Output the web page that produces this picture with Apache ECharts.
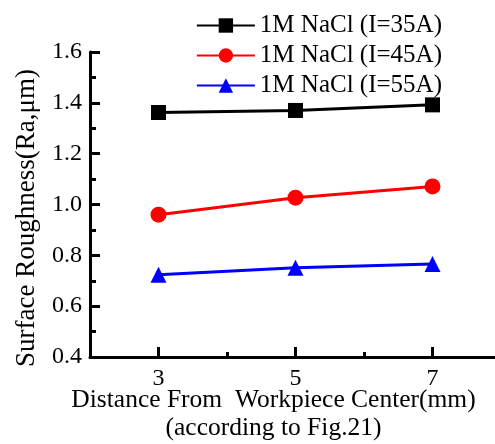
<!DOCTYPE html>
<html><head><meta charset="utf-8">
<script src="https://cdn.jsdelivr.net/npm/echarts@6/dist/echarts.min.js"></script>
<style>html,body{margin:0;padding:0;background:#fff}#c{width:495px;height:444px}</style>
</head><body><div id="c"></div>
<script>
const distances = [3, 5, 7];
const seriesNames = ['1M NaCl (I=35A)', '1M NaCl (I=45A)', '1M NaCl (I=55A)'];
const ra35 = [1.362, 1.370, 1.392];
const ra45 = [0.960, 1.027, 1.071];
const ra55 = [0.724, 0.751, 0.766];
const yTicks = [0.4, 0.6, 0.8, 1.0, 1.2, 1.4, 1.6];
const xTicks = [3, 5, 7];
const xMinorTicks = [4, 6];

const F = 'Liberation Serif, Times New Roman, serif';
const colors = ['#000000', '#ff0000', '#0000ff'];
const symbols = ['rect', 'circle', 'triangle'];
const datas = [ra35, ra45, ra55];

const chart = echarts.init(document.getElementById('c'));
chart.setOption({
  animation: false,
  backgroundColor: '#fff',
  grid: {left: 90, right: -6, top: 52, bottom: 87, containLabel: false, outerBoundsMode: 'none'},
  legend: {
    right: 48, top: 8, orient: 'vertical', itemGap: 5,
    itemWidth: 58, itemHeight: 18,
    textStyle: {fontFamily: F, fontSize: 25, color: '#000'},
    data: seriesNames
  },
  xAxis: [{
    type: 'value', min: 2, max: 8, interval: 1,
    axisLine: {lineStyle: {color: '#000', width: 3}},
    axisTick: {inside: true, length: 10, lineStyle: {color: '#000', width: 3},
      customValues: xTicks},
    splitLine: {show: false},
    axisLabel: {fontFamily: F, fontSize: 24, color: '#000', margin: 10,
      customValues: xTicks},
    name: 'Distance From  Workpiece Center(mm)\n(according to Fig.21)',
    nameLocation: 'middle', nameGap: 29, nameMoveOverlap: false,
    nameTextStyle: {fontFamily: F, fontSize: 25.5, color: '#000', lineHeight: 28, verticalAlign: 'top', padding: [0, 44, 0, 0]}
  }, {
    type: 'value', min: 2, max: 8, interval: 1, position: 'bottom',
    axisLine: {show: false},
    axisTick: {inside: true, length: 5, lineStyle: {color: '#000', width: 3},
      customValues: xMinorTicks},
    axisLabel: {show: false},
    splitLine: {show: false}
  }],
  yAxis: {
    type: 'value', min: 0.4, max: 1.6, interval: 0.2,
    axisLine: {lineStyle: {color: '#000', width: 3}},
    axisTick: {inside: true, length: 10, lineStyle: {color: '#000', width: 3}},
    minorTick: {show: true, splitNumber: 2, length: 6, lineStyle: {color: '#000', width: 3}},
    splitLine: {show: false},
    axisLabel: {fontFamily: F, fontSize: 24, color: '#000', margin: 8,
      formatter: v => v.toFixed(1)},
    name: 'Surface Roughness(Ra,μm)',
    nameLocation: 'middle', nameGap: 50, nameRotate: 90, nameMoveOverlap: false,
    nameTextStyle: {fontFamily: F, fontSize: 27, color: '#000', padding: [0, 27, 0, 0]}
  },
  series: seriesNames.map((n, i) => ({
    name: n, type: 'line',
    data: distances.map((d, j) => [d, datas[i][j]]),
    symbol: symbols[i], symbolSize: i === 0 ? 15 : 16,
    color: colors[i],
    lineStyle: {width: 3, color: colors[i]},
    itemStyle: {color: colors[i]}
  }))
});
</script></body></html>
